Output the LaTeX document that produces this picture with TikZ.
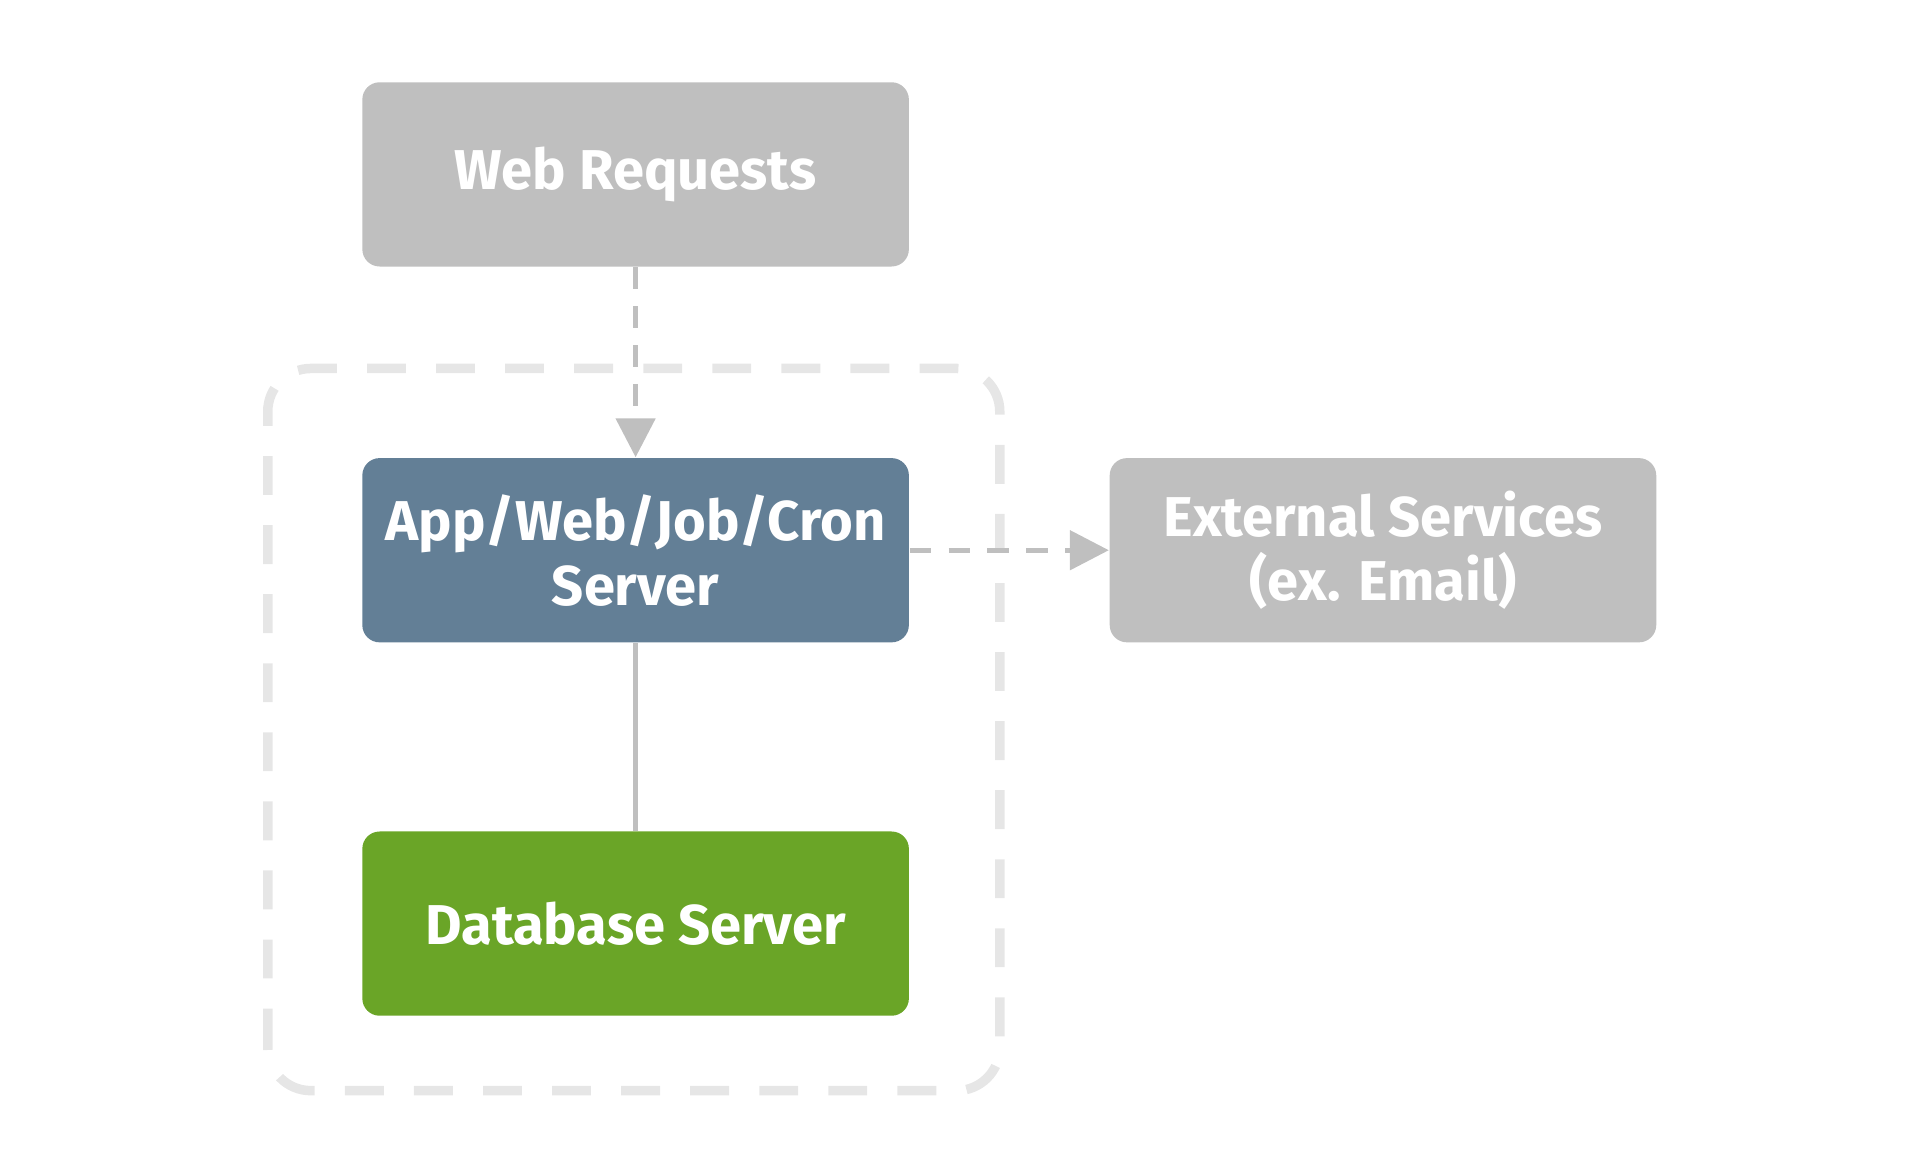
\documentclass[tikz,border=0pt]{standalone}
\usepackage{fontspec}
\setmainfont{Fira Sans}
\usetikzlibrary{positioning,arrows.meta}
\definecolor{boxgray}{HTML}{BFBFBF}
\definecolor{appblue}{HTML}{637F96}
\definecolor{dbgreen}{HTML}{6AA527}
\definecolor{groupgray}{HTML}{E6E6E6}
\tikzset{
  box/.style={rounded corners=4pt, minimum width=4.45cm, minimum height=1.5cm,
    align=center, text=white, font=\fontsize{13}{15}\selectfont\bfseries, inner sep=0pt},
  flow/.style={draw=boxgray, line width=1.2pt, dash pattern=on 5pt off 4pt,
    -{Triangle[width=9pt,length=9pt]}}
}
\begin{document}
\begin{tikzpicture}
\useasboundingbox (0,0) rectangle (15.6,9.5);
% group of servers
\draw[groupgray, line width=2.2pt, dash pattern=on 9pt off 7pt, rounded corners=10pt]
  (2.18,0.62) rectangle (8.14,6.5);
% boxes
\node[box, fill=boxgray] (web) at (5.175,8.08) {Web Requests};
\node[box, fill=appblue] (app) at (5.175,5.02) {App/Web/Job/Cron\\Server};
\node[box, fill=dbgreen] (db) at (5.175,1.98) {Database Server};
\node[box, fill=boxgray] (ext) at (11.26,5.02) {External Services\\(ex. Email)};
% connectors
\draw[flow] (web) -- (app);
\draw[flow] (app) -- (ext);
\draw[boxgray, line width=1.2pt] (app) -- (db);
\end{tikzpicture}
\end{document}
